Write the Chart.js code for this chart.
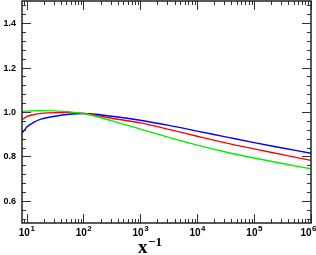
<!DOCTYPE html>
<html>
<head>
<meta charset="utf-8">
<script src="https://cdn.jsdelivr.net/npm/chart.js@4"></script>
<style>
  html, body { margin: 0; padding: 0; background: #fff; }
  canvas { display: block; }
</style>
</head>
<body>
<canvas id="chart" width="316" height="255"></canvas>
<script>
/* DATA */
const xVals = [8.32, 9.12, 10, 13.3, 17.8, 31.6, 56.2, 100, 316, 1000, 3162, 1e4, 31623, 1e5, 316228, 1e6];
const blueVals = [0.904, 0.917, 0.931, 0.953, 0.968, 0.981, 0.990, 0.993, 0.981, 0.963, 0.940, 0.914, 0.888, 0.862, 0.838, 0.814];
const redVals = [0.965, 0.972, 0.979, 0.988, 0.994, 0.997, 0.997, 0.993, 0.972, 0.951, 0.922, 0.891, 0.861, 0.834, 0.808, 0.782];
const greenVals = [1.002, 1.003, 1.004, 1.005, 1.006, 1.005, 1.001, 0.993, 0.960, 0.923, 0.886, 0.851, 0.820, 0.793, 0.768, 0.744];

const yLabels = [0.6, 0.8, 1.0, 1.2, 1.4];
const xExponents = [1, 2, 3, 4, 5, 6];
const xTitle = "x";
const xTitleExp = "\u22121";

const xMin = 8.32, xMax = 1e6;
const yMin = 0.5, yMax = 1.5;

function pts(ys) {
  return xVals.map((x, i) => ({ x: x, y: ys[i] }));
}

/* FRAME, TICKS, LABELS */
const framePlugin = {
  id: "frame",
  afterDraw(c) {
    const ctx = c.ctx;
    const a = c.chartArea;
    const xs = c.scales.x;
    const ys = c.scales.y;
    ctx.save();

    ctx.strokeStyle = "#333";
    ctx.lineWidth = 1;
    // y ticks, both sides
    for (let v = 0.52; v < yMax; v += 0.04) {
      const y = Math.round(ys.getPixelForValue(v)) + 0.5;
      const major = Math.abs(v * 5 - Math.round(v * 5)) < 0.01;
      const len = major ? 9 : 4;
      ctx.beginPath();
      ctx.moveTo(a.left, y); ctx.lineTo(a.left + len, y);
      ctx.moveTo(a.right, y); ctx.lineTo(a.right - len, y);
      ctx.stroke();
    }
    // x ticks, top and bottom
    for (let d = 0; d <= 6; d++) {
      for (let m = 1; m <= 9; m++) {
        const v = m * Math.pow(10, d);
        if (v < xMin || v > xMax) continue;
        const x = Math.round(xs.getPixelForValue(v)) + 0.5;
        const len = m === 1 ? 9 : 4;
        ctx.beginPath();
        ctx.moveTo(x, a.bottom); ctx.lineTo(x, a.bottom - len);
        ctx.moveTo(x, a.top); ctx.lineTo(x, a.top + len);
        ctx.stroke();
      }
    }

    ctx.strokeStyle = "#222";
    ctx.lineWidth = 1.5;
    ctx.strokeRect(a.left, a.top, a.right - a.left, a.bottom - a.top);

    ctx.fillStyle = "#000";
    // y labels
    ctx.font = "bold 9px 'Liberation Sans', Arial, sans-serif";
    ctx.textAlign = "right";
    ctx.textBaseline = "middle";
    yLabels.forEach(v => {
      ctx.fillText(v.toFixed(1), a.left - 6, ys.getPixelForValue(v) + 0.5);
    });

    // x labels: 10 with exponent
    ctx.textBaseline = "alphabetic";
    ctx.textAlign = "left";
    const baseFont = "bold 10px 'Liberation Sans', Arial, sans-serif";
    const expFont = "bold 8px 'Liberation Sans', Arial, sans-serif";
    xExponents.forEach(e => {
      const x = xs.getPixelForValue(Math.pow(10, e));
      ctx.font = baseFont;
      const w1 = ctx.measureText("10").width;
      ctx.font = expFont;
      const w2 = ctx.measureText(String(e)).width;
      let x0 = x - (w1 + w2) / 2;
      if (x0 + w1 + w2 > 316) x0 = 316 - w1 - w2;
      ctx.font = baseFont;
      ctx.fillText("10", x0, 236);
      ctx.font = expFont;
      ctx.fillText(String(e), x0 + w1 + 0.5, 231);
    });

    // axis title
    ctx.font = "bold 19px 'Liberation Serif', 'DejaVu Serif', serif";
    ctx.fillText(xTitle, 138, 253);
    ctx.font = "bold 13px 'Liberation Serif', 'DejaVu Serif', serif";
    ctx.fillText(xTitleExp, 148, 246);

    ctx.restore();
  }
};

const ds = (label, color, ys) => ({
  label,
  data: pts(ys),
  borderColor: color,
  borderWidth: 1.4,
  pointRadius: 0,
  fill: false,
  cubicInterpolationMode: "monotone"
});

new Chart(document.getElementById("chart").getContext("2d"), {
  type: "line",
  data: {
    datasets: [
      ds("green", "#00ee00", greenVals),
      ds("red", "#ff0000", redVals),
      ds("blue", "#0000ff", blueVals)
    ]
  },
  options: {
    responsive: false,
    animation: false,
    layout: { padding: { left: 22, right: 5, top: 1, bottom: 32 } },
    plugins: {
      legend: { display: false },
      tooltip: { enabled: false }
    },
    scales: {
      x: { type: "logarithmic", min: xMin, max: xMax, display: false },
      y: { type: "linear", min: yMin, max: yMax, display: false }
    }
  },
  plugins: [framePlugin]
});
</script>
</body>
</html>
